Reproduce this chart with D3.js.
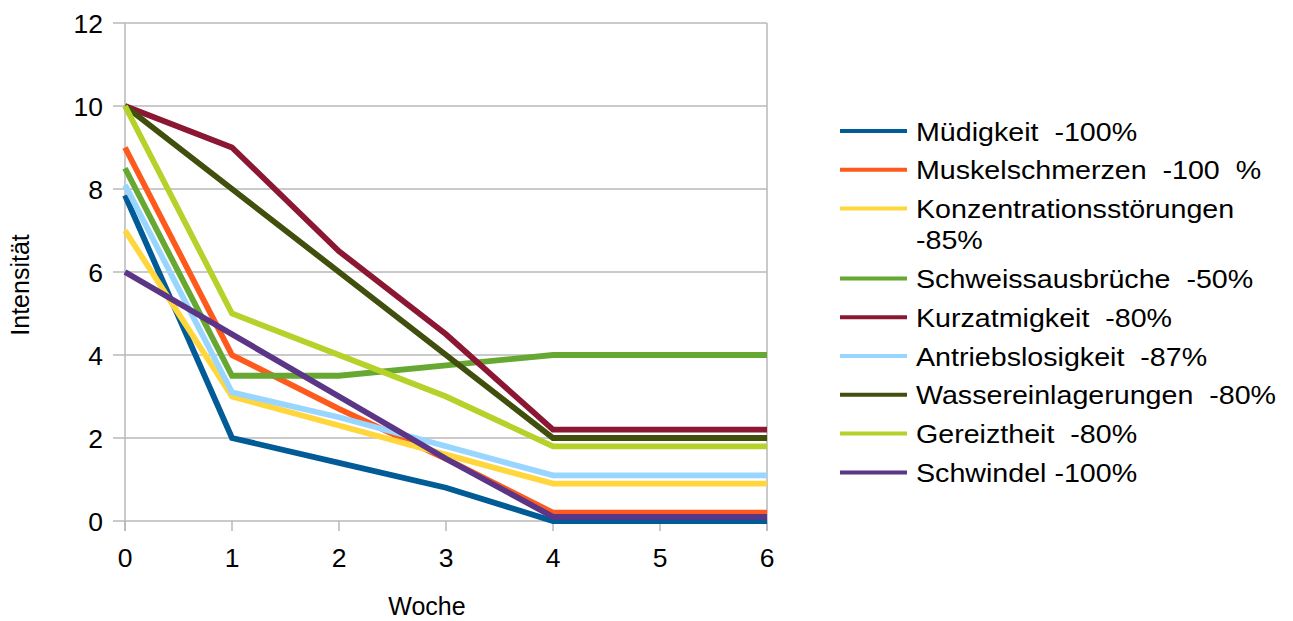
<!DOCTYPE html>
<html><head><meta charset="utf-8">
<script src="https://cdn.jsdelivr.net/npm/d3@7"></script>
<style>body{margin:0;background:#fff;} text{font-family:"Liberation Sans",Arial,sans-serif;fill:#000;white-space:pre;}</style>
</head><body><svg id="c" width="1293" height="621"></svg>
<script>
const weeks = [0,1,2,3,4,5,6];
const yTicks = [0,2,4,6,8,10,12];
const names = ["Müdigkeit  -100%","Muskelschmerzen  -100  %","Konzentrationsstörungen|-85%","Schweissausbrüche  -50%","Kurzatmigkeit  -80%","Antriebslosigkeit  -87%","Wassereinlagerungen  -80%","Gereiztheit  -80%","Schwindel -100%"];
const colors = ["#005b96","#ff5a1e","#ffd73c","#66a832","#8c1732","#99d6ff","#404f0c","#b5d22a","#5b3586"];
const muedigkeit = [7.85,2.0,1.4,0.8,0,0,0];
const muskel = [9,4,2.7,1.5,0.2,0.2,0.2];
const konzentration = [7,3.0,2.3,1.6,0.9,0.9,0.9];
const schweiss = [8.5,3.5,3.5,3.75,4,4,4];
const kurzatmigkeit = [10,9,6.5,4.5,2.2,2.2,2.2];
const antrieb = [8.1,3.1,2.5,1.8,1.1,1.1,1.1];
const wasser = [10,8,6,4,2,2,2];
const gereiztheit = [10,5,4,3,1.8,1.8,1.8];
const schwindel = [6,4.5,3,1.5,0.1,0.1,0.1];
const series = [muedigkeit,muskel,konzentration,schweiss,kurzatmigkeit,antrieb,wasser,gereiztheit,schwindel];

const svg = d3.select("#c");
const L=125,R=767,T=23,B=521;
const x = d3.scaleLinear().domain([0,6]).range([L,R]);
const y = d3.scaleLinear().domain([0,12]).range([B,T]);
const grid="#b8b8b8";

svg.append("g").selectAll("line").data(yTicks).join("line")
  .attr("x1",L-12).attr("x2",R).attr("y1",d=>y(d)).attr("y2",d=>y(d))
  .attr("stroke",grid).attr("stroke-width",1.5);
svg.append("line").attr("x1",L).attr("x2",L).attr("y1",T).attr("y2",B+10).attr("stroke",grid).attr("stroke-width",1.5);
svg.append("line").attr("x1",R).attr("x2",R).attr("y1",T).attr("y2",B+10).attr("stroke",grid).attr("stroke-width",1.5);
svg.append("g").selectAll("line").data(weeks).join("line")
  .attr("x1",d=>x(d)).attr("x2",d=>x(d)).attr("y1",B).attr("y2",B+10)
  .attr("stroke",grid).attr("stroke-width",1.5);
svg.append("g").selectAll("text").data(yTicks).join("text")
  .attr("x",L-22).attr("y",d=>y(d)+9.5).attr("text-anchor","end")
  .style("font-size","26.5px").text(d=>d);
svg.append("g").selectAll("text").data(weeks).join("text")
  .attr("x",d=>x(d)).attr("y",B+46).attr("text-anchor","middle")
  .style("font-size","26.5px").text(d=>d);
svg.append("text").attr("x",427).attr("y",615).attr("text-anchor","middle").style("font-size","25px").text("Woche");
svg.append("text").attr("transform","translate(29,285) rotate(-90)").attr("text-anchor","middle").style("font-size","25px").text("Intensität");

const line = d3.line().x((d,i)=>x(weeks[i])).y(d=>y(d));
svg.append("g").selectAll("path").data(series).join("path")
  .attr("d",line).attr("fill","none").attr("stroke",(d,i)=>colors[i])
  .attr("stroke-width",5.8).attr("stroke-linejoin","miter");

const rowY = [];
let cy = 131;
names.forEach((n,i)=>{ rowY.push(cy); cy += 38.8 + (n.split("|").length-1)*31; });
const lg = svg.append("g");
names.forEach((n,i)=>{
  lg.append("line").attr("x1",840).attr("x2",907).attr("y1",rowY[i]).attr("y2",rowY[i])
    .attr("stroke",colors[i]).attr("stroke-width",4);
  n.split("|").forEach((part,j)=>{
    lg.append("text").attr("transform",`translate(916,${rowY[i]+9.5+j*31}) scale(1.08,1)`)
      .style("font-size","26.5px").text(part);
  });
});
</script></body></html>
